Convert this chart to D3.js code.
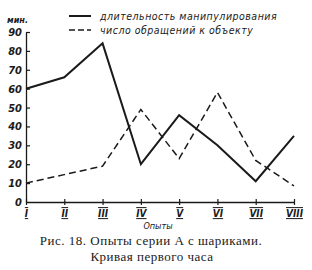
<!DOCTYPE html>
<html>
<head>
<meta charset="utf-8">
<script src="https://cdn.jsdelivr.net/npm/d3@7"></script>
<style>
  body { margin: 0; background: #fff; }
  svg { display: block; }
</style>
</head>
<body>
<div id="chart"></div>
<script>
// data
const trials = ["I", "II", "III", "IV", "V", "VI", "VII", "VIII"];
const durationValues = [60, 66, 84, 20, 46, 30, 11, 35];
const contactValues = [10, 14.5, 19, 49, 23, 58, 22, 8.5];
const yTicks = [0, 10, 20, 30, 40, 50, 60, 70, 80, 90];
const legendLabels = ["длительность манипулирования", "число обращений к объекту"];

const margin = { left: 26, right: 18, top: 32, bottom: 68 };
const width = 312 - margin.left - margin.right;
const height = 270 - margin.top - margin.bottom;
const ink = "#1a1a1a";
const labelFont = "'DejaVu Sans Condensed', 'DejaVu Sans', sans-serif";

const svg = d3.select("#chart")
    .append("svg")
        .attr("width", 312)
        .attr("height", 270)
    .append("g")
        .attr("transform", "translate(" + margin.left + "," + margin.top + ")");

const x = d3.scalePoint()
    .domain(trials)
    .range([0, width]);

const y = d3.scaleLinear()
    .domain([0, 90])
    .range([height, 0]);

// x axis, ticks cross the line
const xAxis = svg.append("g")
    .attr("transform", "translate(0," + height + ")")
    .call(d3.axisBottom(x).tickSizeInner(3).tickSizeOuter(0).tickPadding(5));
xAxis.select(".domain").attr("stroke", ink).attr("stroke-width", 1.3);
xAxis.selectAll(".tick line").attr("y1", -3).attr("stroke", ink).attr("stroke-width", 1.2);
xAxis.selectAll(".tick text")
    .attr("font-family", labelFont)
    .attr("font-style", "italic")
    .attr("font-weight", "bold")
    .attr("font-size", 10)
    .attr("fill", ink)
    .style("text-decoration", "underline overline");

// y axis, ticks point inward
const yAxis = svg.append("g")
    .call(d3.axisLeft(y).tickValues(yTicks).tickSize(-4).tickSizeOuter(0).tickPadding(3));
yAxis.select(".domain").attr("stroke", ink).attr("stroke-width", 1.3);
yAxis.selectAll(".tick line").attr("stroke", ink).attr("stroke-width", 1.2);
yAxis.selectAll(".tick").filter(d => d === 0).select("line").remove();
yAxis.selectAll(".tick text")
    .attr("x", -4)
    .attr("font-family", labelFont)
    .attr("font-style", "italic")
    .attr("font-weight", "bold")
    .attr("font-size", 11)
    .attr("fill", ink);

// unit label
svg.append("text")
    .attr("x", 2)
    .attr("y", -9)
    .attr("text-anchor", "end")
    .attr("font-family", labelFont)
    .attr("font-style", "italic")
    .attr("font-weight", "bold")
    .attr("font-size", 9)
    .attr("fill", ink)
    .text("мин.");

// lines
const line = d3.line()
    .x((d, i) => x(trials[i]))
    .y(d => y(d));

svg.append("path")
    .datum(durationValues)
    .attr("d", line)
    .attr("fill", "none")
    .attr("stroke", ink)
    .attr("stroke-width", 2)
    .attr("stroke-linejoin", "miter");

svg.append("path")
    .datum(contactValues)
    .attr("d", line)
    .attr("fill", "none")
    .attr("stroke", ink)
    .attr("stroke-width", 1.5)
    .attr("stroke-dasharray", "7,4");

// legend
const legend = svg.append("g")
    .attr("transform", "translate(43,-16)");

legend.selectAll("line")
    .data(legendLabels)
    .enter()
    .append("line")
        .attr("x1", 0)
        .attr("x2", 22)
        .attr("y1", (d, i) => i * 14)
        .attr("y2", (d, i) => i * 14)
        .attr("stroke", ink)
        .attr("stroke-width", (d, i) => i === 0 ? 2 : 1.5)
        .attr("stroke-dasharray", (d, i) => i === 0 ? null : "6,3");

legend.selectAll("text")
    .data(legendLabels)
    .enter()
    .append("text")
        .attr("x", 31)
        .attr("y", (d, i) => i * 14 + 4)
        .attr("font-family", labelFont)
        .attr("font-style", "italic")
        .attr("font-size", 10.5)
        .attr("letter-spacing", 0.5)
        .attr("fill", ink)
        .text(d => d);

// x axis title
svg.append("text")
    .attr("x", width / 2 - 2)
    .attr("y", height + 27)
    .attr("text-anchor", "middle")
    .attr("font-family", labelFont)
    .attr("font-style", "italic")
    .attr("font-size", 9)
    .attr("fill", ink)
    .text("Опыты");

// caption
const caption = svg.append("text")
    .attr("text-anchor", "middle")
    .attr("font-family", "'Liberation Serif', 'DejaVu Serif', serif")
    .attr("font-size", 13)
    .attr("letter-spacing", 0.5)
    .attr("fill", ink);

caption.append("tspan")
    .attr("x", 125)
    .attr("y", height + 43)
    .text("Рис. 18. Опыты серии А с шариками.");

caption.append("tspan")
    .attr("x", 126)
    .attr("y", height + 59)
    .text("Кривая первого часа");
</script>
</body>
</html>
